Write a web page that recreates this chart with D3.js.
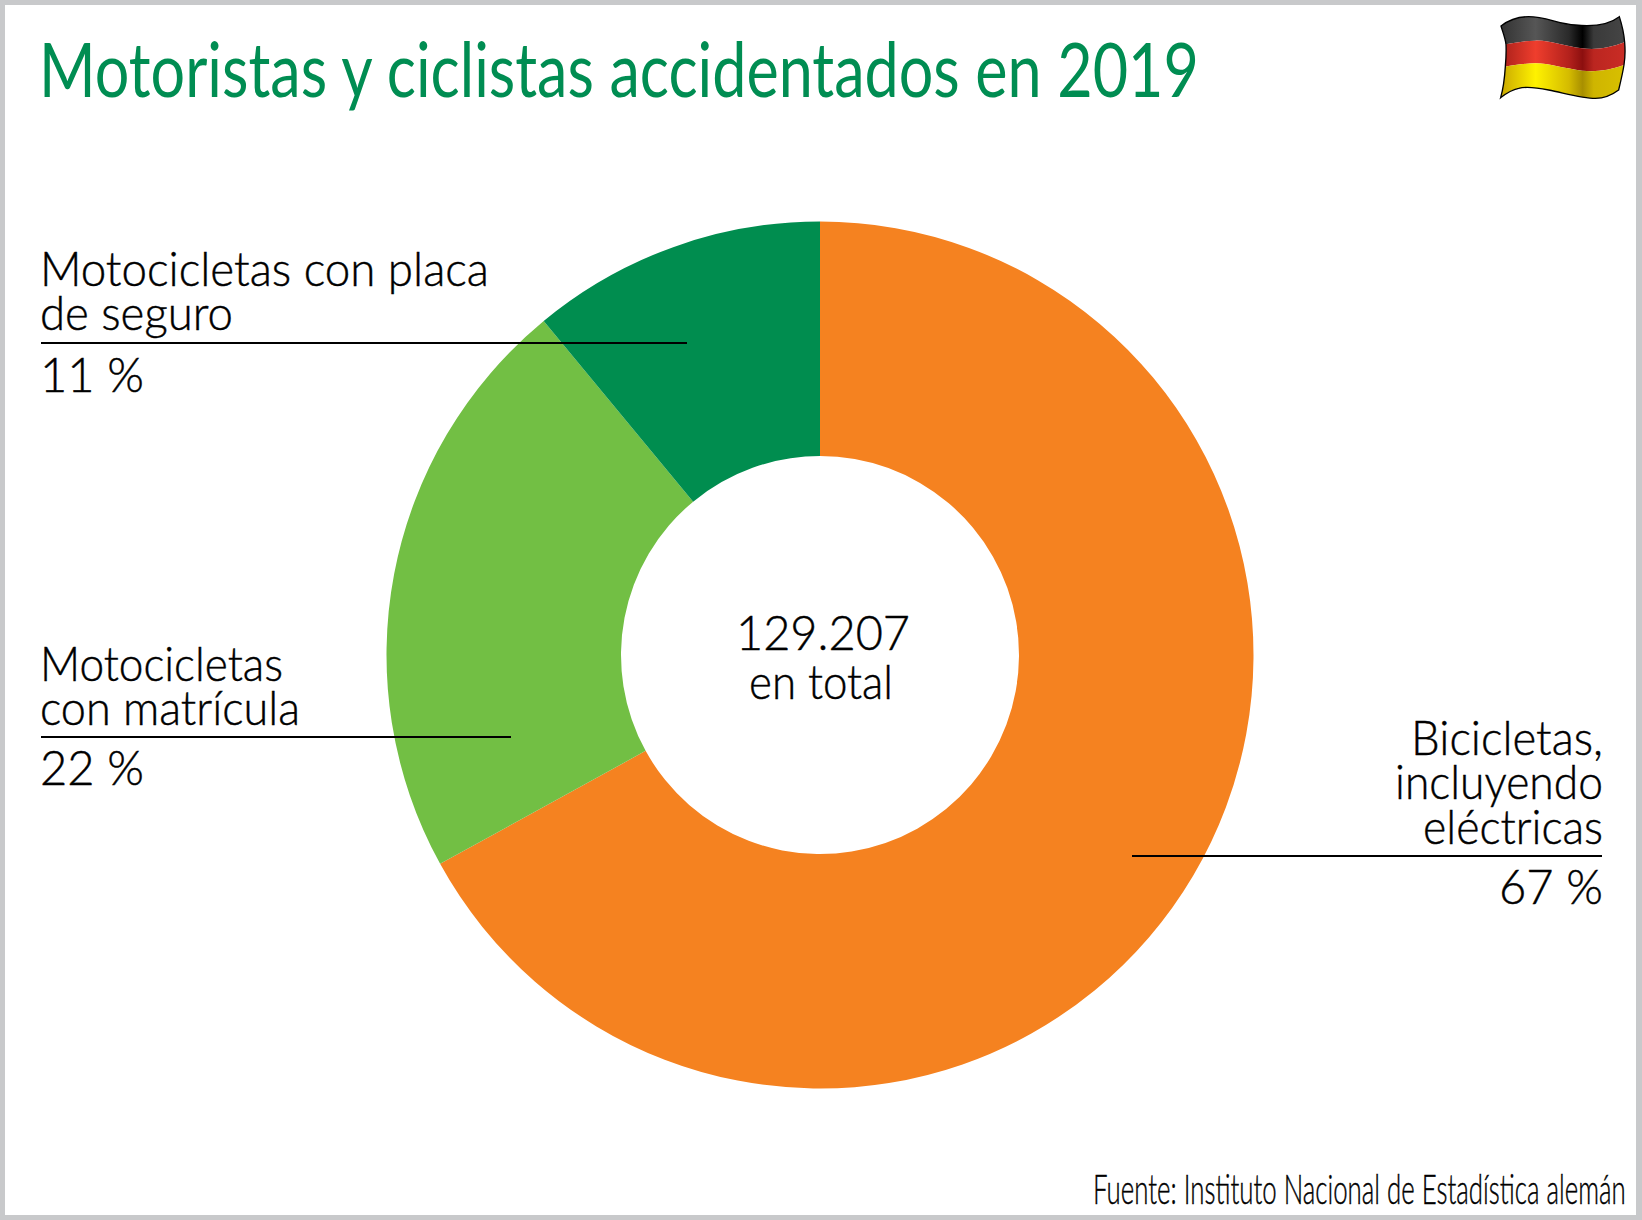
<!DOCTYPE html>
<html>
<head>
<meta charset="utf-8">
<script src="https://d3js.org/d3.v7.min.js"></script>
<style>
html, body { margin: 0; padding: 0; background: #fff; }
svg { display: block; }
text { font-family: Lato, sans-serif; font-weight: 300; fill: #000; stroke: #000; stroke-width: 0.45px; }
text.title { font-weight: 400; fill: #008d52; stroke: none; }
</style>
</head>
<body>
<svg width="1642" height="1220"></svg>
<script>
// data
const categories = ['Bicicletas, incluyendo eléctricas', 'Motocicletas con matrícula', 'Motocicletas con placa de seguro'];
const shares = [67, 22, 11];
const sliceColors = ['#f58220', '#72bf44', '#008d4f'];
const titleText = 'Motoristas y ciclistas accidentados en 2019';
const sourceText = 'Fuente: Instituto Nacional de Estadística alemán';
const totalLines = ['129.207', 'en total'];
const labelLines = [
    ['Bicicletas,', 'incluyendo', 'eléctricas'],
    ['Motocicletas', 'con matrícula'],
    ['Motocicletas con placa', 'de seguro']
];

// layout, in same order as categories
const labelLayout = [
    {anchor: 'end', x: 1603, ys: [755, 799, 844], widths: [192, 208, 180], lineY: 856, x1: 1132, x2: 1602, pctY: 904, pctW: 104},
    {anchor: 'start', x: 40, ys: [681, 725], widths: [243, 260], lineY: 737, x1: 41, x2: 511, pctY: 785, pctW: 104},
    {anchor: 'start', x: 40, ys: [286, 330], widths: [449, 193], lineY: 343, x1: 41, x2: 687, pctY: 392, pctW: 104}
];

const w = 1642;
const h = 1220;
const cx = 820;
const cy = 655;
const svg = d3.select('svg');

// grey frame
svg.append('rect').attr('width', w).attr('height', h).attr('fill', '#c8c9cb');
svg.append('rect').attr('x', 5).attr('y', 5).attr('width', 1631).attr('height', 1210).attr('fill', '#fff');

// donut
const pie = d3.pie().sort(null).value(d => d);
const arc = d3.arc().innerRadius(199).outerRadius(433.5);

svg.append('g')
    .attr('transform', `translate(${cx},${cy})`)
    .selectAll('path')
    .data(pie(shares))
    .enter().append('path')
    .attr('d', arc)
    .attr('fill', (d, i) => sliceColors[i])
    .append('title').text((d, i) => categories[i]);

// fits a string to the width measured on the reference, squeezing the glyphs
function addText(str, x, y, size, anchor, width, cls) {
    const t = svg.append('text')
        .attr('class', cls || null)
        .attr('font-size', size)
        .attr('text-anchor', anchor)
        .text(str);
    const sx = width / t.node().getComputedTextLength();
    t.attr('transform', `translate(${x},${y}) scale(${sx},1)`);
    return t;
}

addText(titleText, 39, 97, 75, 'start', 1160, 'title');

addText(totalLines[0], cx + 3, 650, 48, 'middle', 174);
addText(totalLines[1], cx + 1, 699, 48, 'middle', 144);

// callouts
labelLayout.forEach(function(l, i) {
    labelLines[i].forEach(function(line, j) {
        addText(line, l.x, l.ys[j], 48, l.anchor, l.widths[j]);
    });
    svg.append('line')
        .attr('x1', l.x1).attr('x2', l.x2)
        .attr('y1', l.lineY).attr('y2', l.lineY)
        .attr('stroke', '#000').attr('stroke-width', 2);
    addText(shares[i] + ' %', l.x, l.pctY, 48, l.anchor, l.pctW);
});

addText(sourceText, 1093, 1204, 41, 'start', 533);

// flag, drawn in the 3x crop coordinates
const defs = svg.append('defs');
const stripes = [
    {id: 'flagBlack', stops: ['#333333', '#565656', '#2a2a2a', '#000000', '#3a3a3a', '#454545'],
     d: 'M177,78 C200,60 230,50 260,50 C310,50 350,72 400,75 C450,80 500,75 532,50 C540,75 546,100 548,127 C500,145 460,150 420,145 C370,140 320,120 280,122 C250,122 215,128 192,133 C190,115 182,95 177,78 Z'},
    {id: 'flagRed', stops: ['#a81f1a', '#ef3e2d', '#b3211c', '#8c0f0f', '#bb2620', '#c92c25'],
     d: 'M192,133 C215,128 250,122 280,122 C320,120 370,140 420,145 C460,150 500,145 548,127 C550,150 550,170 546,195 C500,212 460,216 420,212 C370,206 320,190 280,190 C250,190 215,195 190,200 C192,178 193,155 192,133 Z'},
    {id: 'flagYellow', stops: ['#c9a800', '#fff200', '#d4bb00', '#a88f00', '#cfb500', '#d8c000'],
     d: 'M190,200 C215,195 250,190 280,190 C320,190 370,206 420,212 C460,216 500,212 546,195 C542,220 536,245 530,270 C510,285 490,295 460,295 C420,295 370,280 320,270 C280,262 250,260 230,265 C205,270 190,282 176,293 C184,265 188,232 190,200 Z'}
];
const flagX = d3.scaleLinear().domain([0, 1]).range([177, 548]);
const stopAt = [0, 0.28, 0.55, 0.66, 0.75, 1];

stripes.forEach(function(s) {
    const g = defs.append('linearGradient')
        .attr('id', s.id)
        .attr('gradientUnits', 'userSpaceOnUse')
        .attr('x1', flagX(0)).attr('x2', flagX(1)).attr('y1', 0).attr('y2', 0);
    s.stops.forEach(function(c, i) {
        g.append('stop').attr('offset', stopAt[i]).attr('stop-color', c);
    });
});

const flag = svg.append('g').attr('transform', 'translate(1442,0) scale(0.3333)');
flag.selectAll('path.stripe').data(stripes).enter().append('path')
    .attr('class', 'stripe')
    .attr('d', d => d.d)
    .attr('fill', d => `url(#${d.id})`);
flag.append('path')
    .attr('d', 'M177,78 C200,60 230,50 260,50 C310,50 350,72 400,75 C450,80 500,75 532,50 C540,75 546,100 548,127 C550,150 550,170 546,195 C542,220 536,245 530,270 C510,285 490,295 460,295 C420,295 370,280 320,270 C280,262 250,260 230,265 C205,270 190,282 176,293 C184,265 188,232 190,200 C192,178 193,155 192,133 C190,115 182,95 177,78 Z')
    .attr('fill', 'none')
    .attr('stroke', '#000')
    .attr('stroke-width', 4);
</script>
</body>
</html>
